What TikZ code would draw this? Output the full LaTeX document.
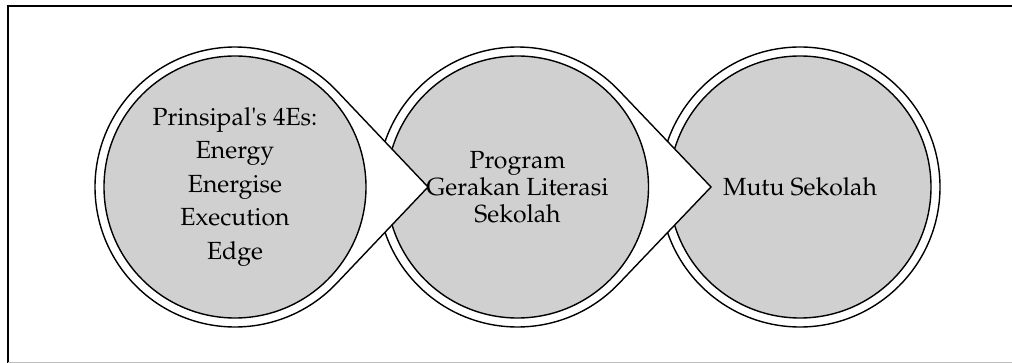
\documentclass[tikz,border=0pt]{standalone}
\usepackage[T1]{fontenc}
\usepackage{mathpazo}
\usetikzlibrary{positioning}
\definecolor{coregray}{RGB}{208,208,208}
\definecolor{edgegray}{RGB}{190,190,190}

\begin{document}
\begin{tikzpicture}[x=1pt,y=-1pt,
  ring/.style={draw,line width=1.4pt,fill=white,line join=miter},
  core/.style={circle,draw,line width=1.4pt,fill=coregray,minimum size=262pt,inner sep=0pt,align=center,font=\fontsize{24.8}{26.7}\selectfont}]
\useasboundingbox (0,0) rectangle (1012,363);
% frame
\draw[line width=2pt] (7.5,363) -- (7.5,6.5) -- (1012,6.5);
\draw[edgegray,line width=1pt] (7.5,362.5) -- (1012,362.5);
% centres and tips
\coordinate (o1) at (235,187);
\coordinate (o2) at (517.5,187);
\coordinate (o3) at (800,187);
\coordinate (t1) at (428,187);
\coordinate (t2) at (711,187);
% third
\node[ring,circle,minimum size=280pt,inner sep=0pt] (r3) at (o3) {};
\node[core] (c3) at (o3) {Mutu Sekolah};
% second
\draw[ring] (t2) -- ([shift={(43.5:140)}]o2) arc[start angle=43.5,end angle=316.5,radius=140] -- cycle;
\node[core] (c2) at (o2) {Program\\Gerakan Literasi\\Sekolah};
% first
\draw[ring] (t1) -- ([shift={(43.5:140)}]o1) arc[start angle=43.5,end angle=316.5,radius=140] -- cycle;
\node[core,font=\fontsize{24.8}{33.5}\selectfont] (c1) at (o1) {Prinsipal\textquotesingle s 4Es:\\Energy\\Energise\\Execution\\Edge};
\end{tikzpicture}
\end{document}
